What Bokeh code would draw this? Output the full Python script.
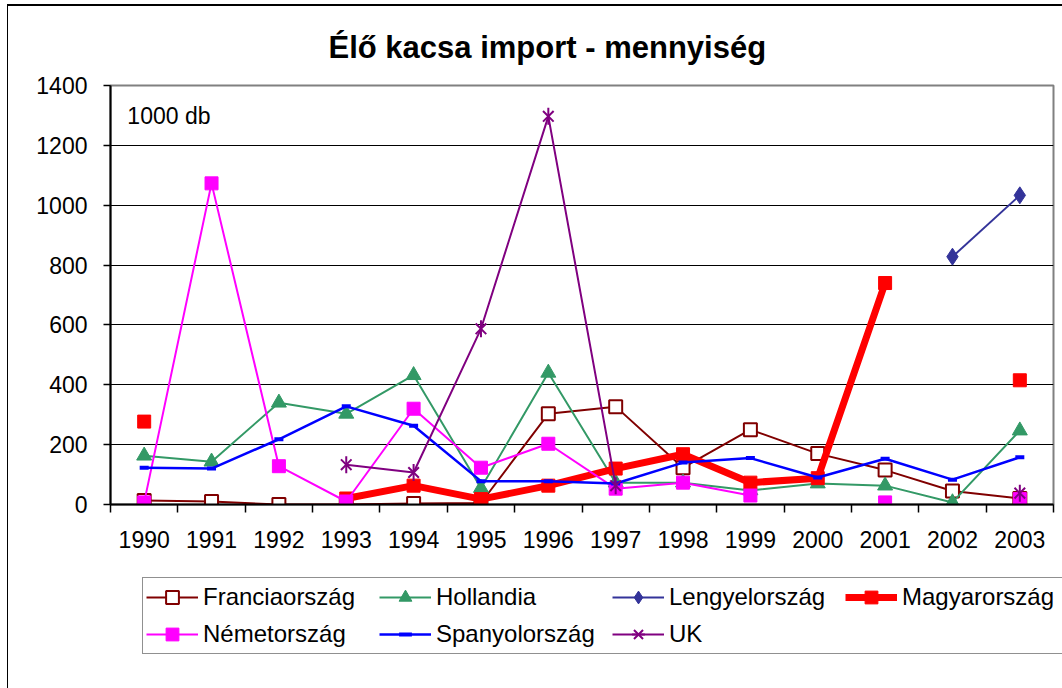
import math
from bokeh.plotting import figure
from bokeh.layouts import column
from bokeh.models import Range1d, FixedTicker, Legend, Label
from bokeh.embed import file_html
from bokeh.resources import INLINE

nan = float("nan")

years = [1990, 1991, 1992, 1993, 1994, 1995, 1996, 1997, 1998, 1999, 2000, 2001, 2002, 2003]
year_labels = ["1990", "1991", "1992", "1993", "1994", "1995", "1996", "1997", "1998", "1999", "2000", "2001", "2002", "2003"]
y_ticks = [0, 200, 400, 600, 800, 1000, 1200, 1400]

franciaorszag = [13, 10, 0, 0, 3, 5, 303, 327, 123, 250, 170, 115, 45, 20]
hollandia = [163, 143, 340, 303, 432, 55, 440, 73, 73, 47, 70, 63, 7, 247]
lengyelorszag = [nan, nan, nan, nan, nan, nan, nan, nan, nan, nan, nan, nan, 828, 1033]
magyarorszag = [277, nan, nan, 20, 63, 18, 63, 120, 168, 73, 88, 740, nan, 415]
nemetorszag = [7, 1073, 128, 10, 320, 123, 203, 53, 73, 30, nan, 7, nan, 18]
spanyolorszag = [123, 120, 218, 328, 263, 78, 78, 70, 140, 155, 90, 153, 83, 158]
uk = [nan, nan, nan, 133, 107, 587, 1297, 63, nan, nan, nan, nan, nan, 38]

FONT = "Liberation Sans"

p = figure(width=1054, height=570,
           x_range=Range1d(1989.5, 2003.5), y_range=Range1d(0, 1400),
           output_backend="svg", toolbar_location=None,
           min_border_left=102, min_border_right=9,
           min_border_top=78, min_border_bottom=72)

p.title.text = "Élő kacsa import - mennyiség"
p.title.align = "left"
p.title.text_color = "black"
p.title.text_font = FONT
p.title.text_font_size = "31px"
p.title.text_font_style = "bold"
p.title.offset = 218
p.title.standoff = 42

p.outline_line_color = "#808080"
p.outline_line_width = 2

# axes
xa = p.xaxis[0]
boundaries = [y - 0.5 for y in years] + [years[-1] + 0.5]
xa.ticker = FixedTicker(ticks=years, minor_ticks=boundaries)
xa.major_label_overrides = {y: l for y, l in zip(years, year_labels)}
xa.major_tick_out = 0
xa.major_tick_in = 0
xa.minor_tick_out = 8
xa.minor_tick_in = 0
xa.minor_tick_line_color = "black"
xa.minor_tick_line_width = 1.5
xa.axis_line_color = "black"
xa.axis_line_width = 2
xa.major_label_text_font = FONT
xa.major_label_text_font_size = "23px"
xa.major_label_text_color = "black"
xa.major_label_standoff = 18

ya = p.yaxis[0]
ya.ticker = FixedTicker(ticks=y_ticks, minor_ticks=[])
ya.major_tick_out = 7
ya.major_tick_in = 0
ya.major_tick_line_color = "black"
ya.major_tick_line_width = 1.5
ya.axis_line_color = "black"
ya.axis_line_width = 2
ya.major_label_text_font = FONT
ya.major_label_text_font_size = "23px"
ya.major_label_text_color = "black"
ya.major_label_standoff = 16

p.xgrid.visible = False
p.ygrid.grid_line_color = "black"
p.ygrid.grid_line_width = 1

series = [
    ("Franciaország", franciaorszag, "#800000", 2, [dict(marker="square", size=13, fill_color="white", line_width=2)]),
    ("Hollandia", hollandia, "#339966", 2, [dict(marker="triangle", size=15, line_width=1)]),
    ("Lengyelország", lengyelorszag, "#333399", 2, [dict(marker="diamond", size=17, line_width=1)]),
    ("Magyarország", magyarorszag, "#FF0000", 7, [dict(marker="square", size=13, line_width=1)]),
    ("Németország", nemetorszag, "#FF00FF", 2, [dict(marker="square", size=13, line_width=1)]),
    ("Spanyolország", spanyolorszag, "#0000FF", 2.5, [dict(marker="dash", size=9, line_width=4)]),
    ("UK", uk, "#800080", 2, [dict(marker="x", size=15, line_width=2),
                              dict(marker="dash", size=17, line_width=2, angle=math.pi / 2)]),
]

# legend figure (below the chart); its glyphs fall outside its own ranges
pl = figure(width=1054, height=112, x_range=Range1d(0, 1), y_range=Range1d(0, 1),
            output_backend="svg", toolbar_location=None,
            min_border_left=102, min_border_right=0, min_border_top=0, min_border_bottom=0)
pl.axis.visible = False
pl.grid.visible = False
pl.outline_line_color = None

items = []
for name, vals, color, lw, mks in series:
    p.line(years, vals, line_color=color, line_width=lw)
    rs = [pl.line(years, vals, line_color=color, line_width=lw)]
    for mk in mks:
        kw = dict(mk)
        kw.setdefault("fill_color", color)
        p.scatter(years, vals, line_color=color, **kw)
        rs.append(pl.scatter(years, vals, line_color=color, **kw))
    items.append((name, rs))

legend = Legend(items=items, orientation="horizontal", ncols=4,
                location=(32, 34))
legend.label_text_font = FONT
legend.label_text_font_size = "24px"
legend.label_text_color = "black"
legend.label_standoff = 5
legend.label_width = 171
legend.glyph_width = 52
legend.glyph_height = 32
legend.spacing = 5
legend.padding = 3
legend.margin = 0
legend.border_line_color = "#222222"
legend.border_line_width = 1.5
legend.background_fill_color = "white"
legend.background_fill_alpha = 1
pl.add_layout(legend)

p.add_layout(Label(x=1989.75, y=1297, text="1000 db", text_baseline="middle",
                   text_font=FONT, text_font_size="23px", text_color="black"))

layout = column(p, column(pl), spacing=0,
                styles={"border-left": "1px solid black", "border-top": "2px solid black",
                        "margin-left": "7px", "margin-top": "4px"})

open("out.html", "w").write(file_html(layout, INLINE))
